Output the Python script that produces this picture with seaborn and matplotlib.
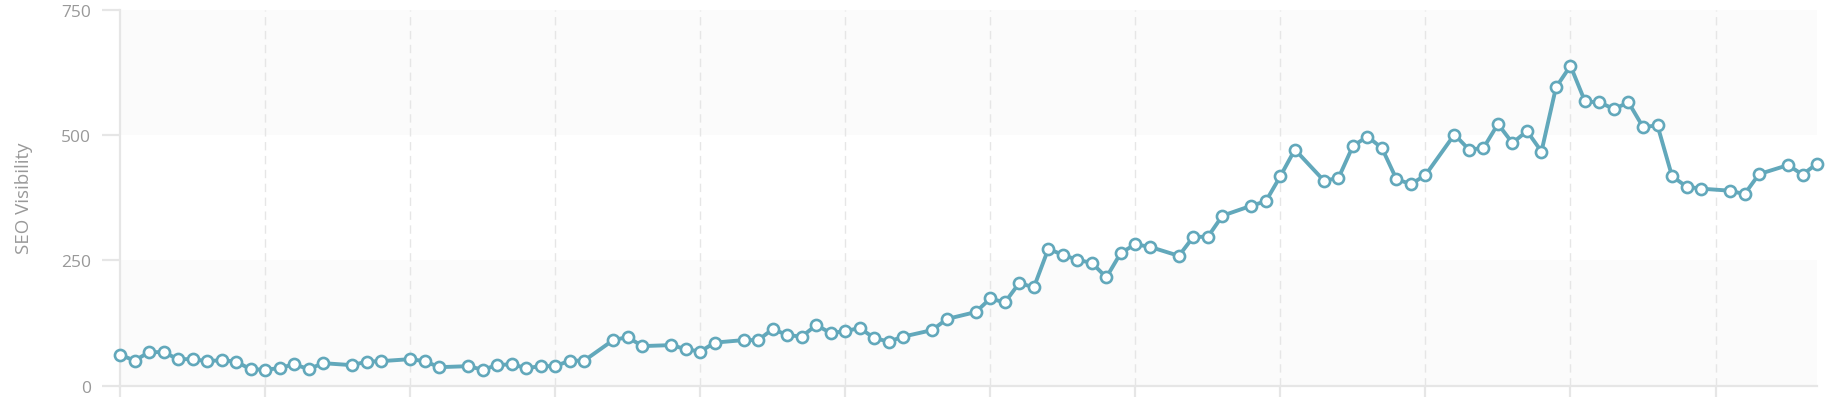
import matplotlib
matplotlib.use("Agg")
import matplotlib.pyplot as plt
import seaborn as sns
import pandas as pd

# days since start (one reading every 3 days, a few gaps)
days = [0, 3, 6, 9, 12, 15, 18, 21, 24, 27, 30, 33, 36, 39, 42, 48, 51, 54,
        60, 63, 66, 72, 75, 78, 81, 84, 87, 90, 93, 96, 102, 105, 108, 114,
        117, 120, 123, 129, 132, 135, 138, 141, 144, 147, 150, 153, 156, 159,
        162, 168, 171, 177, 180, 183, 186, 189, 192, 195, 198, 201, 204, 207,
        210, 213, 219, 222, 225, 228, 234, 237, 240, 243, 249, 252, 255, 258,
        261, 264, 267, 270, 276, 279, 282, 285, 288, 291, 294, 297, 300, 303,
        306, 309, 312, 315, 318, 321, 324, 327, 333, 336, 339, 345, 348, 351]

visibility = [62, 50, 67, 67, 53, 53, 49, 51, 48, 33, 32, 35, 43, 33, 45, 41,
              48, 49, 53, 49, 37, 39, 32, 41, 43, 35, 39, 39, 50, 50, 91, 97,
              79, 81, 73, 68, 86, 91, 91, 113, 101, 98, 121, 105, 109, 115, 95,
              88, 98, 111, 133, 147, 174, 166, 205, 196, 273, 261, 251, 245,
              216, 265, 282, 277, 259, 297, 297, 339, 359, 368, 418, 471, 409,
              414, 478, 497, 474, 412, 402, 420, 501, 471, 474, 522, 484, 508,
              467, 595, 638, 567, 565, 552, 565, 516, 519, 418, 397, 393, 389,
              382, 422, 440, 421, 443]

y_ticks = [0, 250, 500, 750]
grid_days = list(range(0, 331, 30))

df = pd.DataFrame({"day": days, "visibility": visibility})

sns.set_style("white")
plt.rcParams["font.family"] = ["Open Sans", "DejaVu Sans"]

line_color = "#62a8bb"
grid_color = "#e6e6e6"
text_color = "#999999"

fig = plt.figure(figsize=(18.33, 4.02), dpi=100)
ax = fig.add_axes([0.0655, 0.038, 0.9258, 0.9355])

# alternating horizontal bands
ax.axhspan(0, 250, color="#fbfbfb", zorder=0, lw=0)
ax.axhspan(500, 750, color="#fbfbfb", zorder=0, lw=0)

for d in grid_days[1:]:
    ax.axvline(d, color=grid_color, linestyle=(0, (6, 4)), linewidth=1, zorder=1)

sns.lineplot(data=df, x="day", y="visibility", ax=ax, color=line_color,
             linewidth=2.8, marker="o", markersize=8,
             markerfacecolor="white", markeredgecolor=line_color,
             markeredgewidth=1.9, zorder=3, clip_on=False)

ax.set_xlim(0, 351)
ax.set_ylim(0, 750)
ax.set_yticks(y_ticks)
ax.set_xticks(grid_days)
ax.set_xticklabels([])

for side in ["top", "right"]:
    ax.spines[side].set_visible(False)
for side in ["left", "bottom"]:
    ax.spines[side].set_color(grid_color)
    ax.spines[side].set_linewidth(1.6)

ax.tick_params(axis="y", length=13, width=1.6, color=grid_color,
               labelcolor=text_color, labelsize=12.5, pad=8, left=True)
ax.tick_params(axis="x", length=8, width=1.6, color=grid_color, bottom=True)

ax.set_xlabel("")
ax.set_ylabel("SEO Visibility", color=text_color, fontsize=13.5, labelpad=20)

fig.savefig("out.png", dpi=100)
